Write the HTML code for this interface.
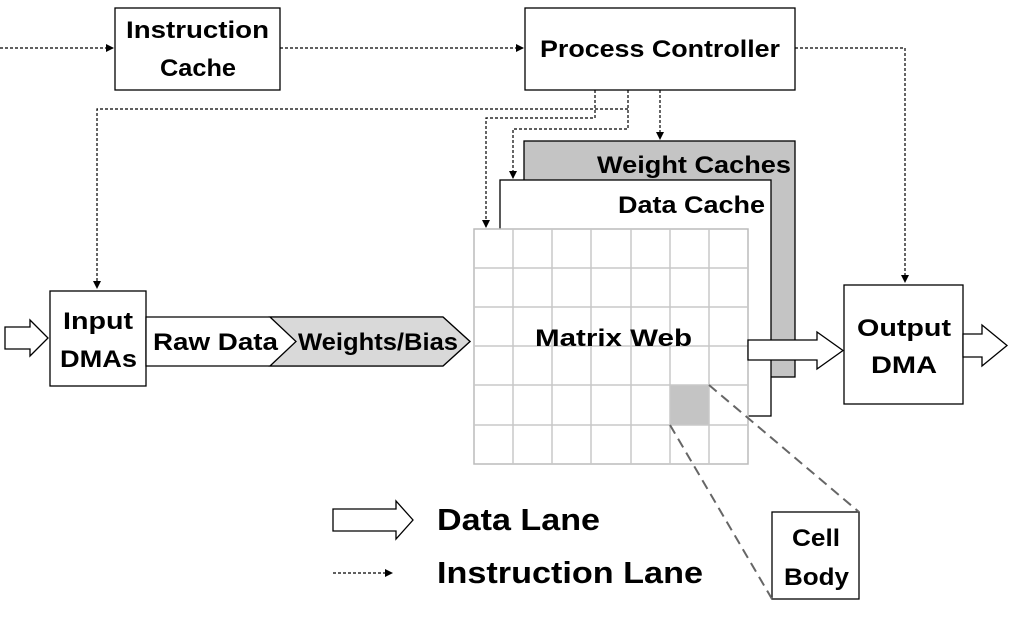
<!DOCTYPE html>
<html><head><meta charset="utf-8"><style>html,body{margin:0;padding:0;background:#fff}svg{display:block}</style></head>
<body>
<svg width="1013" height="627" viewBox="0 0 1013 627" xmlns="http://www.w3.org/2000/svg" font-family="Liberation Sans, sans-serif" font-weight="bold">
<defs>
<marker id="a" markerWidth="8" markerHeight="8" refX="7" refY="4" orient="auto" markerUnits="userSpaceOnUse"><path d="M0,0 L8,4 L0,8 z" fill="#000"/></marker>
</defs>
<g fill="none" stroke="#000" stroke-width="1.2" stroke-dasharray="3,2">
<line x1="0" y1="48" x2="113" y2="48" marker-end="url(#a)"/>
<line x1="280" y1="48" x2="523" y2="48" marker-end="url(#a)"/>
<polyline points="795,48 905,48 905,282" marker-end="url(#a)"/>
<polyline points="628,109 97,109 97,288" marker-end="url(#a)"/>
<polyline points="595,90 595,118 486,118 486,227" marker-end="url(#a)"/>
<polyline points="628,90 628,129 513,129 513,178" marker-end="url(#a)"/>
<line x1="660" y1="90" x2="660" y2="139" marker-end="url(#a)"/>
<line x1="333" y1="573" x2="392" y2="573" marker-end="url(#a)"/>
</g>
<g stroke="#000" stroke-width="1.3">
<rect x="115" y="8" width="165" height="82" fill="#fff"/>
<rect x="525" y="8" width="270" height="82" fill="#fff"/>
<rect x="524" y="141" width="271" height="236" fill="#c4c4c4"/>
<rect x="500" y="180" width="271" height="236" fill="#fff"/>
<rect x="50" y="291" width="96" height="95" fill="#fff"/>
<rect x="844" y="285" width="119" height="119" fill="#fff"/>
<rect x="772" y="512" width="87" height="87" fill="#fff"/>
<polygon points="146,317 443,317 470,341.5 443,366 146,366" fill="#fff"/>
<polygon points="270,317 443,317 470,341.5 443,366 270,366 296,341.5" fill="#d9d9d9"/>
<polygon points="5,327 30,327 30,320 48,338 30,356 30,349 5,349" fill="#fff"/>
<polygon points="333,509 396,509 396,501 413,520 396,539 396,531 333,531" fill="#fff"/>
</g>
<rect x="474" y="229" width="274" height="235" fill="#fff" stroke="#bbb" stroke-width="1.5"/>
<rect x="670" y="385" width="39" height="40" fill="#c4c4c4"/>
<g stroke="#c8c8c8" stroke-width="1.5">
<line x1="513" y1="229" x2="513" y2="464"/><line x1="552" y1="229" x2="552" y2="464"/><line x1="591" y1="229" x2="591" y2="464"/><line x1="631" y1="229" x2="631" y2="464"/><line x1="670" y1="229" x2="670" y2="464"/><line x1="709" y1="229" x2="709" y2="464"/>
<line x1="474" y1="268" x2="748" y2="268"/><line x1="474" y1="307" x2="748" y2="307"/><line x1="474" y1="346" x2="748" y2="346"/><line x1="474" y1="385" x2="748" y2="385"/><line x1="474" y1="425" x2="748" y2="425"/>
</g>
<g stroke="#000" stroke-width="1.3">
<polygon points="748,340 817,340 817,332 843,350.5 817,369 817,360 748,360" fill="#fff"/>
<polygon points="963,334 982,334 982,325 1007,345.5 982,366 982,357 963,357" fill="#fff"/>
</g>
<g stroke="#666" stroke-width="2" stroke-dasharray="10,6" fill="none">
<line x1="709" y1="385" x2="859" y2="512"/>
<line x1="670" y1="425" x2="772" y2="599"/>
</g>
<g fill="#000" font-size="24">
<text x="126" y="38" textLength="143" lengthAdjust="spacingAndGlyphs">Instruction</text>
<text x="160" y="76" textLength="76" lengthAdjust="spacingAndGlyphs">Cache</text>
<text x="540" y="57" textLength="240" lengthAdjust="spacingAndGlyphs">Process Controller</text>
<text x="597" y="173" textLength="194" lengthAdjust="spacingAndGlyphs">Weight Caches</text>
<text x="618" y="213" textLength="147" lengthAdjust="spacingAndGlyphs">Data Cache</text>
<text x="535" y="346" textLength="157" lengthAdjust="spacingAndGlyphs">Matrix Web</text>
<text x="63" y="329" textLength="70" lengthAdjust="spacingAndGlyphs">Input</text>
<text x="60" y="367" textLength="77" lengthAdjust="spacingAndGlyphs">DMAs</text>
<text x="153" y="350" textLength="125" lengthAdjust="spacingAndGlyphs">Raw Data</text>
<text x="298" y="350" textLength="160" lengthAdjust="spacingAndGlyphs">Weights/Bias</text>
<text x="857" y="336" textLength="94" lengthAdjust="spacingAndGlyphs">Output</text>
<text x="871" y="373" textLength="66" lengthAdjust="spacingAndGlyphs">DMA</text>
<text x="792" y="546" textLength="48" lengthAdjust="spacingAndGlyphs">Cell</text>
<text x="784" y="585" textLength="65" lengthAdjust="spacingAndGlyphs">Body</text>
<text x="437" y="530" font-size="31" textLength="163" lengthAdjust="spacingAndGlyphs">Data Lane</text>
<text x="437" y="583" font-size="31" textLength="266" lengthAdjust="spacingAndGlyphs">Instruction Lane</text>
</g>
</svg>
</body></html>
